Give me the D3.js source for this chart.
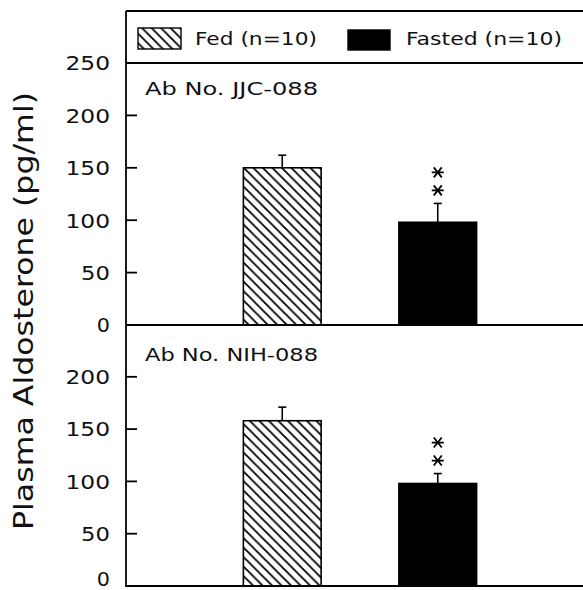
<!DOCTYPE html>
<html><head><meta charset="utf-8">
<script src="https://cdn.jsdelivr.net/npm/d3@7"></script>
<style>body{margin:0;background:#fff}svg{display:block}text{font-family:"DejaVu Sans",sans-serif;fill:#111}</style>
</head><body><svg id="c" width="583" height="590"></svg>
<script>
const categories = ["Fed (n=10)", "Fasted (n=10)"];
const panelLabels = ["Ab No. JJC-088", "Ab No. NIH-088"];
const meansJJC = [150, 98];
const semJJC = [12, 18];
const meansNIH = [158, 98];
const semNIH = [13, 9.5];
const sigJJC = [false, true];
const sigNIH = [false, true];
const tickValues = [0, 50, 100, 150, 200, 250];
const yTitle = "Plasma Aldosterone (pg/ml)";

const svg = d3.select("#c");
const defs = svg.append("defs");
const pat = defs.append("pattern").attr("id","hatch").attr("patternUnits","userSpaceOnUse")
  .attr("width",9.5).attr("height",9.5);
pat.append("path").attr("d","M-2,-2 L11.5,11.5 M-2,7.5 L2,11.5 M7.5,-2 L11.5,2")
  .attr("stroke","#000").attr("stroke-width",1.8).attr("fill","none");

const left = 126, right = 583;
const x = d3.scaleBand().domain(categories).range([204.5, 515.5]).paddingInner(0.5).paddingOuter(0.25);

const panels = [
  {label: panelLabels[0], means: meansJJC, sem: semJJC, sig: sigJJC, range:[325, 63], ticks: tickValues, labelY: 95},
  {label: panelLabels[1], means: meansNIH, sem: semNIH, sig: sigNIH, range:[586, 324.5], ticks: tickValues.slice(0,5), labelY: 361}
];

panels.forEach((p, pi) => {
  const y = d3.scaleLinear().domain([0, 250]).range(p.range);
  const g = svg.append("g");
  categories.forEach((c, i) => {
    g.append("rect").attr("x", x(c)).attr("y", y(p.means[i])).attr("width", x.bandwidth())
      .attr("height", y(0) - y(p.means[i]))
      .attr("fill", i === 0 ? "url(#hatch)" : "#000").attr("stroke","#000").attr("stroke-width",1.6);
    const cx = x(c) + x.bandwidth()/2;
    const top = y(p.means[i] + p.sem[i]);
    g.append("line").attr("x1",cx).attr("x2",cx).attr("y1",y(p.means[i])).attr("y2",top)
      .attr("stroke","#000").attr("stroke-width",1.6);
    g.append("line").attr("x1",cx-4).attr("x2",cx+4).attr("y1",top).attr("y2",top)
      .attr("stroke","#000").attr("stroke-width",1.6);
    if (p.sig[i]) {
      [13, 31].forEach(off => {
        const sy = top - off;
        g.append("path").attr("transform",`translate(${cx},${sy})`)
          .attr("d","M-6,0 L6,0 M-4,-5 L4,5 M4,-5 L-4,5")
          .attr("stroke","#000").attr("stroke-width",1.8).attr("fill","none");
      });
    }
  });
  const ax = d3.axisLeft(y).tickValues(p.ticks).tickSize(0).tickPadding(16).tickFormat(d3.format("d"));
  const axg = svg.append("g").attr("transform",`translate(${left},0)`).call(ax);
  axg.select(".domain").remove();
  axg.selectAll("text").attr("font-size",19.5).attr("fill","#111")
    .attr("font-family","DejaVu Sans, sans-serif")
    .attr("x", -16)
    .attr("dy", d => (pi === 1 && d === 0) ? "-0.05em" : "0.35em")
    .each(function(d){ const n = String(d).length; d3.select(this).attr("textLength", n*15.7 - 2.5).attr("lengthAdjust","spacingAndGlyphs"); });
  svg.append("g").selectAll("line").data(p.ticks.filter(d => d > 0 && d < 250)).join("line")
    .attr("x1", left).attr("x2", left + 11).attr("y1", d => y(d)).attr("y2", d => y(d))
    .attr("stroke","#000").attr("stroke-width",1.8);
  svg.append("line").attr("x1",left).attr("x2",right).attr("y1",y(0)).attr("y2",y(0))
    .attr("stroke","#000").attr("stroke-width",1.8);
  svg.append("text").attr("x",145).attr("y",p.labelY).attr("font-size",18)
    .attr("textLength",173).attr("lengthAdjust","spacingAndGlyphs").text(p.label);
});

svg.append("line").attr("x1",left).attr("x2",left).attr("y1",11).attr("y2",587).attr("stroke","#000").attr("stroke-width",1.8);
svg.append("line").attr("x1",left).attr("x2",right).attr("y1",11).attr("y2",11).attr("stroke","#000").attr("stroke-width",1.8);
svg.append("line").attr("x1",left).attr("x2",right).attr("y1",63).attr("y2",63).attr("stroke","#000").attr("stroke-width",1.8);

const legend = [
  {name: categories[0], fill: "url(#hatch)", sx: 138, sy: 28, sw: 43, sh: 21, tx: 195, tw: 122},
  {name: categories[1], fill: "#000", sx: 348, sy: 30, sw: 42, sh: 20, tx: 406, tw: 156}
];
legend.forEach(l => {
  svg.append("rect").attr("x",l.sx).attr("y",l.sy).attr("width",l.sw).attr("height",l.sh)
    .attr("fill",l.fill).attr("stroke","#000").attr("stroke-width",1.4);
  svg.append("text").attr("x",l.tx).attr("y",45).attr("font-size",18)
    .attr("textLength",l.tw).attr("lengthAdjust","spacingAndGlyphs").text(l.name);
});

svg.append("text").attr("transform","translate(33,311) rotate(-90)").attr("text-anchor","middle")
  .attr("font-size",27).attr("textLength",438).attr("lengthAdjust","spacingAndGlyphs").text(yTitle);
</script></body></html>
